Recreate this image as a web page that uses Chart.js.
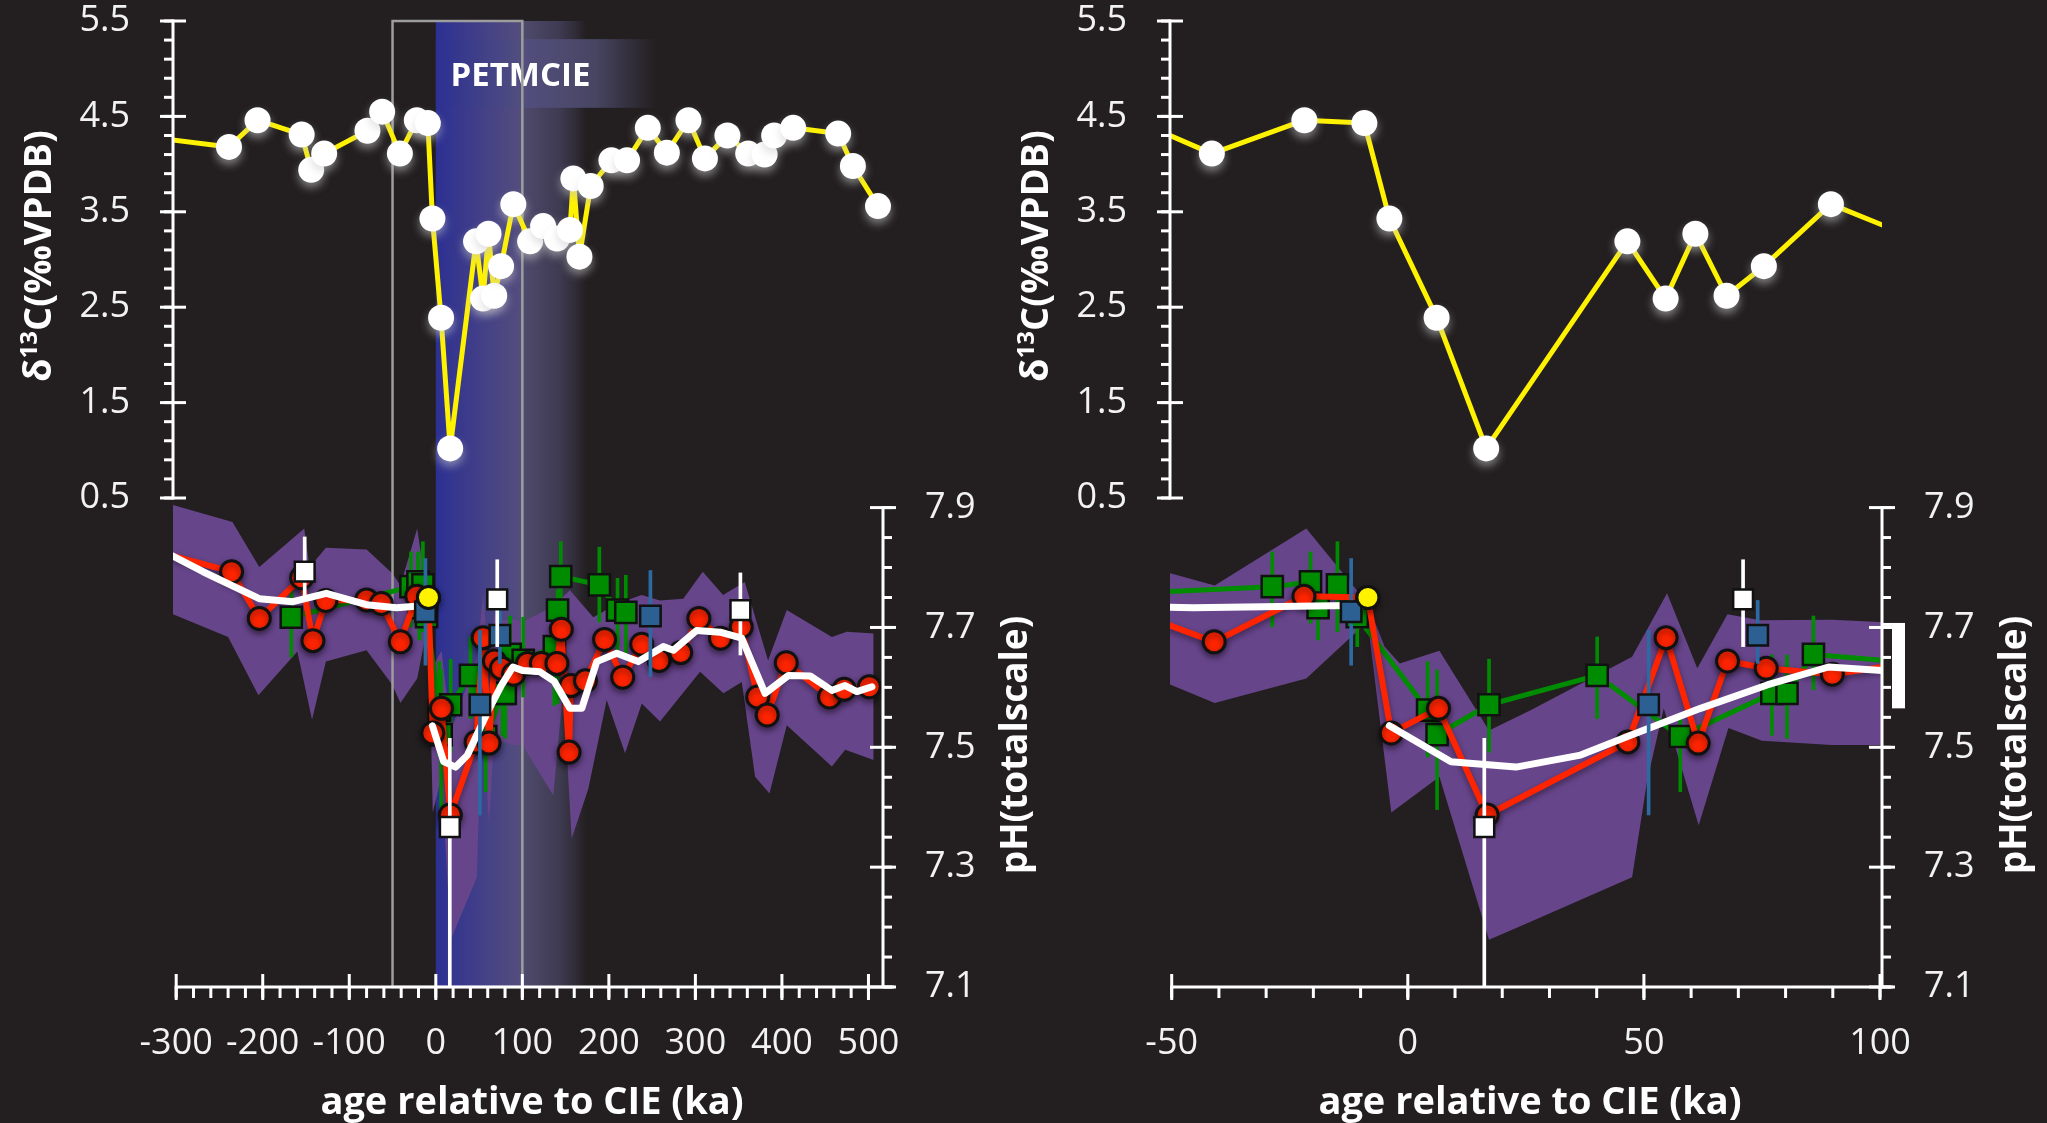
<!DOCTYPE html>
<html>
<head>
<meta charset="utf-8">
<title>PETM carbon isotopes and pH</title>
<script src="https://cdn.jsdelivr.net/npm/chart.js@4.4.1/dist/chart.umd.min.js"></script>
<style>
  html, body { margin: 0; padding: 0; background: #231f20; }
  body { width: 2047px; height: 1123px; position: relative; overflow: hidden; }
  canvas { position: absolute; top: 0; }
  #left { left: 0; }
  #right { left: 990px; }
</style>
</head>
<body>
<canvas id="left" width="1060" height="1123"></canvas>
<canvas id="right" width="1057" height="1123"></canvas>
<script>
(function () {
  "use strict";

  // δ13C (‰ VPDB) record, shared by both panels
  const d13Age = [-310, -239, -206, -155, -144, -129, -79, -62, -41.5, -21.9, -9.2, -3.9, 6.1, 16.6, 46.5, 54.6, 60.9, 67.5, 75.4, 89.6, 109, 124, 140, 155, 159, 166, 179, 203, 221, 245, 267, 292, 311, 337, 361, 380, 391, 413, 465, 482, 511];
  const d13Val = [4.26, 4.18, 4.46, 4.31, 3.94, 4.11, 4.35, 4.55, 4.11, 4.46, 4.43, 3.43, 2.39, 1.02, 3.19, 2.59, 3.27, 2.62, 2.93, 3.58, 3.19, 3.35, 3.22, 3.31, 3.85, 3.03, 3.77, 4.04, 4.04, 4.38, 4.12, 4.46, 4.06, 4.30, 4.11, 4.10, 4.30, 4.38, 4.32, 3.98, 3.56];

  // pH reconstructions
  const redAge = [-305, -236, -204, -155, -142, -127, -80, -63, -41, -22, -8.5, -3.5, 6.5, 16.8, 46.6, 54.7, 61.5, 67.7, 75.9, 89.9, 106, 122, 140, 145, 154, 156, 173, 195, 216, 238, 258, 283, 304, 329, 353, 372, 383, 405, 455, 472, 501];
  const redPH = [7.82, 7.793, 7.715, 7.783, 7.678, 7.745, 7.746, 7.74, 7.676, 7.752, 7.75, 7.524, 7.565, 7.387, 7.509, 7.683, 7.507, 7.644, 7.632, 7.622, 7.64, 7.64, 7.64, 7.697, 7.492, 7.603, 7.611, 7.68, 7.617, 7.672, 7.645, 7.658, 7.715, 7.682, 7.701, 7.584, 7.554, 7.641, 7.584, 7.597, 7.601];

  const greenAge = [-167, -28.7, -20.6, -19.0, -14.9, -10.7, 4.2, 6.2, 17.2, 40.1, 57.7, 77.1, 80.3, 85.9, 101, 137, 140.7, 144.4, 189, 210, 219.6];
  const greenPH = [7.717, 7.768, 7.776, 7.733, 7.771, 7.718, 7.562, 7.521, 7.571, 7.62, 7.518, 7.59, 7.59, 7.655, 7.645, 7.668, 7.729, 7.785, 7.771, 7.729, 7.725];
  const greenLo = [7.651, 7.701, 7.707, 7.679, 7.693, 7.668, 7.484, 7.396, 7.492, 7.548, 7.426, 7.52, 7.515, 7.596, 7.584, 7.57, 7.573, 7.70, 7.709, 7.657, 7.657];
  const greenHi = [7.762, 7.826, 7.826, 7.745, 7.843, 7.745, 7.643, 7.629, 7.647, 7.684, 7.551, 7.654, 7.654, 7.719, 7.717, 7.684, 7.762, 7.843, 7.834, 7.782, 7.787];

  const blueAge = [-12.0, 51.0, 74.1, 248];
  const bluePH = [7.726, 7.571, 7.687, 7.719];
  const blueLo = [7.637, 7.387, 7.64, 7.618];
  const blueHi = [7.815, 7.695, 7.745, 7.795];

  const whiteAge = [-151.5, 16.2, 71.0, 352];
  const whitePH = [7.793, 7.367, 7.747, 7.729];
  const whiteLo = [7.75, 6.9, 7.668, 7.654];
  const whiteHi = [7.851, 7.515, 7.813, 7.791];

  const onsetAge = [-8.45];
  const onsetPH = [7.75];

  // smoothed pH (null = break at the onset)
  const smoothAge = [-305, -269, -204, -165, -126.5, -80, -45.5, -8.45, -6, -3.9, 9.15, 22.9, 36.6, 47.2, 62, 76.1, 89.1, 100.7, 120.3, 137, 154.9, 168.7, 186, 209, 234, 263, 274.6, 301.5, 328.5, 353.6, 380.5, 407.6, 432.7, 457.7, 473, 486.6, 504];
  const smoothPH = [7.82, 7.793, 7.748, 7.743, 7.757, 7.738, 7.733, 7.737, null, 7.536, 7.476, 7.467, 7.487, 7.52, 7.565, 7.604, 7.634, 7.628, 7.626, 7.61, 7.565, 7.565, 7.643, 7.657, 7.643, 7.668, 7.662, 7.695, 7.692, 7.682, 7.59, 7.62, 7.619, 7.595, 7.603, 7.593, 7.601];

  // pH uncertainty envelope
  const bandUpAge = [-305, -235, -204, -152, -146, -127, -80, -50.1, -40.9, -21.5, -8.5, -4.9, -1.7, 6.7, 17.2, 26, 47.5, 54.9, 61.3, 67.7, 74.6, 89.8, 100, 134, 155, 182, 210, 238, 259, 286, 308.5, 332, 357, 384, 405.6, 457.7, 475, 506];
  const bandUpPH = [7.905, 7.876, 7.801, 7.865, 7.80, 7.833, 7.83, 7.79, 7.77, 7.865, 7.74, 7.668, 7.64, 7.661, 7.528, 7.562, 7.651, 7.757, 7.632, 7.722, 7.712, 7.713, 7.709, 7.734, 7.762, 7.717, 7.74, 7.754, 7.745, 7.748, 7.793, 7.754, 7.776, 7.645, 7.729, 7.684, 7.693, 7.69];
  const bandLoAge = [-305, -240, -205, -160, -143, -127, -80, -50.1, -40.9, -21.5, -8.5, -3.5, 6.7, 17.2, 26, 47.5, 50.7, 54.2, 61.6, 67.9, 75, 89.8, 100, 135.7, 147.3, 157, 176.3, 197.5, 218.7, 238, 259.1, 305.4, 332.4, 353.6, 369, 385.6, 405.6, 457.7, 473.1, 506];
  const bandLoPH = [7.723, 7.684, 7.587, 7.66, 7.546, 7.643, 7.662, 7.604, 7.574, 7.615, 7.71, 7.391, 7.451, 7.179, 7.209, 7.283, 7.445, 7.565, 7.37, 7.532, 7.511, 7.504, 7.504, 7.42, 7.595, 7.348, 7.431, 7.579, 7.49, 7.573, 7.543, 7.626, 7.59, 7.609, 7.451, 7.423, 7.537, 7.468, 7.496, 7.479];

  // bracket beside the right-hand pH axis
  const bracketPH = [7.565, 7.705];

  // ticks
  const d13Ticks = [0.5, 1.5, 2.5, 3.5, 4.5, 5.5];
  const phTicks = [7.1, 7.3, 7.5, 7.7, 7.9];
  const ageTicksLeft = [-300, -200, -100, 0, 100, 200, 300, 400, 500];
  const ageTicksRight = [-50, 0, 50, 100];

  // CIE shading and zoom frame (ka / ‰)
  const cieOnset = 0, cieEnd = 100, cieFade = 178;
  const zoomFrom = -50, zoomTo = 100;
  const labelEnd = 255, labelTop = 5.31, labelBottom = 4.59, labelAge = 17, labelD13 = 4.92;

  // layout
  const FONT = '"Open Sans", "Noto Sans", sans-serif';
  const TICK = "#f2f2f2";
  const PLOT_TOP = 21;
  const PLOT_BOTTOM = 987;
  const D13_PX = 95.4;
  const PH_PX = 599.25;
  const d13Max = 5.5;
  const d13Min = d13Max - (PLOT_BOTTOM - PLOT_TOP) / D13_PX;
  const phMin = 7.1;
  const phMax = phMin + (PLOT_BOTTOM - PLOT_TOP) / PH_PX;

  Chart.defaults.font.family = FONT;
  Chart.defaults.color = TICK;

  const pts = (xs, ys) => xs.map((x, i) => ({ x: x, y: ys[i] }));
  const spans = (xs, lo, hi) => xs.map((x, i) => ({ x: x, y: [lo[i], hi[i]] }));

  function inside(r) {
    return function (c) {
      const s = c.chart.scales.x;
      if (!s || !c.raw) return r;
      return c.raw.x >= s.min && c.raw.x <= s.max ? r : 0;
    };
  }

  function zeroPad(s) {
    s.paddingLeft = 0;
    s.paddingRight = 0;
    s.paddingTop = 0;
    s.paddingBottom = 0;
  }

  function seg(ctx, x0, y0, x1, y1) {
    ctx.beginPath();
    ctx.moveTo(x0, y0);
    ctx.lineTo(x1, y1);
    ctx.stroke();
  }

  function steps(from, to, step) {
    const n = Math.round((to - from) / step);
    const out = [];
    for (let i = 0; i <= n; i++) out.push(from + i * step);
    return out;
  }

  function drawCIE(chart) {
    const ctx = chart.ctx, a = chart.chartArea;
    const xs = chart.scales.x, ds = chart.scales.d13;
    const x0 = xs.getPixelForValue(cieOnset);
    const xr = xs.getPixelForValue(cieEnd);
    const x1 = xs.getPixelForValue(cieFade);
    const top = ds.getPixelForValue(d13Max);
    const f = (xr - x0) / (x1 - x0);

    ctx.save();
    const g = ctx.createLinearGradient(x0, 0, x1, 0);
    g.addColorStop(0, "rgb(44, 48, 146)");
    g.addColorStop(f * 0.5, "rgb(66, 63, 136)");
    g.addColorStop(f, "rgb(84, 78, 124)");
    g.addColorStop(f + 0.02, "rgb(77, 73, 106)");
    g.addColorStop(0.8, "rgb(63, 59, 82)");
    g.addColorStop(0.92, "rgb(46, 42, 52)");
    g.addColorStop(1, "rgba(35, 31, 32, 0)");
    ctx.fillStyle = g;
    ctx.fillRect(x0, top, x1 - x0, a.bottom - top);

    const bx1 = xs.getPixelForValue(labelEnd);
    const by0 = ds.getPixelForValue(labelTop);
    const by1 = ds.getPixelForValue(labelBottom);
    const f2 = (xr - x0) / (bx1 - x0);
    const g2 = ctx.createLinearGradient(x0, 0, bx1, 0);
    g2.addColorStop(0, "rgb(44, 48, 146)");
    g2.addColorStop(f2, "rgb(82, 78, 126)");
    g2.addColorStop(0.72, "rgba(74, 72, 102, 0.95)");
    g2.addColorStop(1, "rgba(74, 72, 102, 0)");
    ctx.fillStyle = g2;
    ctx.fillRect(x0, by0, bx1 - x0, by1 - by0);

    ctx.fillStyle = "#ffffff";
    ctx.font = "bold 33px " + FONT;
    ctx.textAlign = "left";
    ctx.textBaseline = "middle";
    ctx.fillText("PETMCIE", xs.getPixelForValue(labelAge), ds.getPixelForValue(labelD13));
    ctx.restore();
  }

  function drawZoomFrame(chart) {
    const ctx = chart.ctx, a = chart.chartArea;
    const xs = chart.scales.x, ds = chart.scales.d13;
    const x0 = xs.getPixelForValue(zoomFrom);
    const x1 = xs.getPixelForValue(zoomTo);
    const top = ds.getPixelForValue(d13Max);
    ctx.save();
    ctx.strokeStyle = "#9d9d9d";
    ctx.lineWidth = 2.5;
    ctx.strokeRect(x0, top, x1 - x0, a.bottom - top);
    ctx.restore();
  }

  function drawAxes(chart, o) {
    const ctx = chart.ctx, a = chart.chartArea;
    const xs = chart.scales.x, ds = chart.scales.d13, ps = chart.scales.ph;
    ctx.save();
    ctx.strokeStyle = "#ffffff";
    ctx.lineWidth = 3;

    // δ13C axis
    const dTop = ds.getPixelForValue(d13Ticks[d13Ticks.length - 1]);
    const dBot = ds.getPixelForValue(d13Ticks[0]);
    seg(ctx, a.left, dTop - 1.5, a.left, dBot + 1.5);
    steps(d13Ticks[0], d13Ticks[d13Ticks.length - 1], 0.2).forEach(v => {
      const y = ds.getPixelForValue(v);
      seg(ctx, a.left - 9, y, a.left, y);
    });
    d13Ticks.forEach(v => {
      const y = ds.getPixelForValue(v);
      seg(ctx, a.left - 13, y, a.left + 13, y);
    });

    // pH axis
    const pTop = ps.getPixelForValue(phTicks[phTicks.length - 1]);
    seg(ctx, a.right, pTop - 1.5, a.right, a.bottom);
    steps(phTicks[0], phTicks[phTicks.length - 1], 0.05).forEach(v => {
      const y = ps.getPixelForValue(v);
      seg(ctx, a.right, y, a.right + 9, y);
    });
    phTicks.forEach(v => {
      const y = ps.getPixelForValue(v);
      seg(ctx, a.right - 13, y, a.right + 13, y);
    });

    // age axis
    const t = o.ageTicks;
    seg(ctx, xs.getPixelForValue(t[0]) - 1.5, a.bottom, a.right + 11, a.bottom);
    steps(t[0], t[t.length - 1], o.ageMinor).forEach(v => {
      const x = xs.getPixelForValue(v);
      seg(ctx, x, a.bottom, x, a.bottom + 11);
    });
    t.forEach(v => {
      const x = xs.getPixelForValue(v);
      seg(ctx, x, a.bottom - 13, x, a.bottom + 13);
    });
    ctx.restore();
  }

  function vertical(ctx, cx, cy, parts, size) {
    ctx.save();
    ctx.translate(cx, cy);
    ctx.rotate(-Math.PI / 2);
    ctx.textAlign = "left";
    ctx.textBaseline = "alphabetic";
    ctx.fillStyle = "#ffffff";
    let total = 0;
    parts.forEach(p => {
      ctx.font = "bold " + Math.round(size * (p.s || 1)) + "px " + FONT;
      p.w = ctx.measureText(p.t).width;
      total += p.w;
    });
    let x = -total / 2;
    parts.forEach(p => {
      ctx.font = "bold " + Math.round(size * (p.s || 1)) + "px " + FONT;
      ctx.fillText(p.t, x, size * 0.36 - (p.up || 0) * size);
      x += p.w;
    });
    ctx.restore();
  }

  function drawTitles(chart) {
    const ctx = chart.ctx, a = chart.chartArea;
    ctx.save();
    ctx.fillStyle = "#ffffff";
    ctx.font = "bold 38px " + FONT;
    ctx.textAlign = "center";
    ctx.textBaseline = "alphabetic";
    ctx.fillText("age relative to CIE (ka)", (a.left + a.right) / 2 + 4, 1114);
    ctx.restore();
    vertical(ctx, a.left - 136, 256, [{ t: "δ" }, { t: "13", s: 0.64, up: 0.36 }, { t: "C(‰VPDB)" }], 38);
    vertical(ctx, a.right + 131, 745, [{ t: "pH(totalscale)" }], 37);
  }

  function drawBracket(chart) {
    const ctx = chart.ctx, a = chart.chartArea, ps = chart.scales.ph;
    const yTop = ps.getPixelForValue(bracketPH[1]);
    const yBot = ps.getPixelForValue(bracketPH[0]);
    ctx.save();
    ctx.fillStyle = "#ffffff";
    ctx.fillRect(a.right + 10, yTop, 13, yBot - yTop);
    ctx.fillRect(a.right, yTop - 1.5, 23, 3);
    ctx.restore();
  }

  const panelPlugin = {
    id: "panel",
    beforeDatasetsDraw(chart, args, o) {
      if (o.cie) drawCIE(chart);
    },
    beforeDatasetDraw(chart, args) {
      const ds = chart.data.datasets[args.index];
      const ctx = chart.ctx;
      if (ds.glow) {
        ctx.save();
        ctx.shadowColor = "rgba(200, 200, 200, 0.55)";
        ctx.shadowBlur = 9;
        ctx.shadowOffsetY = 5;
      } else if (ds.shade) {
        ctx.save();
        ctx.shadowColor = "rgba(0, 0, 0, 0.45)";
        ctx.shadowBlur = 6;
        ctx.shadowOffsetY = 3;
      }
    },
    afterDatasetDraw(chart, args, o) {
      const ds = chart.data.datasets[args.index];
      if (ds.glow || ds.shade) chart.ctx.restore();
      if (ds.label === "band upper" && o.cie) drawZoomFrame(chart);
    },
    afterDraw(chart, args, o) {
      drawAxes(chart, o);
      drawTitles(chart);
      if (o.bracket) drawBracket(chart);
    },
  };

  function buildPanel(p) {
    const datasets = [
      {
        label: "white squares", type: "line", yAxisID: "ph", order: 0,
        data: pts(whiteAge, whitePH), showLine: false,
        pointStyle: "rect", pointRadius: inside(14), pointBackgroundColor: "#ffffff",
        pointBorderColor: "#111111", pointBorderWidth: 2.5,
      },
      {
        label: "white errors", type: "bar", yAxisID: "ph", order: 1,
        data: spans(whiteAge, whiteLo, whiteHi), backgroundColor: "#ffffff",
        barThickness: 3, grouped: false,
      },
      {
        label: "onset", type: "line", yAxisID: "ph", order: 2,
        data: pts(onsetAge, onsetPH), showLine: false,
        pointRadius: 11, pointBackgroundColor: "#fff200",
        pointBorderColor: "#111111", pointBorderWidth: 3,
      },
      {
        label: "blue squares", type: "line", yAxisID: "ph", order: 3,
        data: pts(blueAge, bluePH), showLine: false,
        pointStyle: "rect", pointRadius: inside(14.5), pointBackgroundColor: "#2c5f92",
        pointBorderColor: "#111111", pointBorderWidth: 2.5,
      },
      {
        label: "blue errors", type: "bar", yAxisID: "ph", order: 4,
        data: spans(blueAge, blueLo, blueHi), backgroundColor: "#2d6aa3",
        barThickness: 3, grouped: false,
      },
      {
        label: "smoothed pH", type: "line", yAxisID: "ph", order: 5,
        data: pts(smoothAge, smoothPH), borderColor: "#ffffff", borderWidth: 7,
        pointRadius: 0, borderCapStyle: "round", borderJoinStyle: "round", spanGaps: false,
      },
      {
        label: "red pH", type: "line", yAxisID: "ph", order: 6, shade: true,
        data: pts(redAge, redPH), borderColor: "#ff2400", borderWidth: 6,
        borderJoinStyle: "round",
        pointRadius: inside(11), pointBackgroundColor: "#ff2400",
        pointBorderColor: "#111111", pointBorderWidth: 3,
      },
      {
        label: "green pH", type: "line", yAxisID: "ph", order: 7,
        data: pts(greenAge, greenPH), borderColor: "#008c00", borderWidth: 5,
        borderJoinStyle: "round",
        pointStyle: "rect", pointRadius: inside(15), pointBackgroundColor: "#008c00",
        pointBorderColor: "#111111", pointBorderWidth: 2.5,
      },
      {
        label: "green errors", type: "bar", yAxisID: "ph", order: 8,
        data: spans(greenAge, greenLo, greenHi), backgroundColor: "#008c00",
        barThickness: 3, grouped: false,
      },
      {
        label: "d13C points", type: "line", yAxisID: "d13", order: 9, glow: true,
        data: pts(d13Age, d13Val), showLine: false, clip: p.pointClip,
        pointRadius: inside(13), pointBackgroundColor: "#ffffff", pointBorderWidth: 0,
      },
      {
        label: "d13C line", type: "line", yAxisID: "d13", order: 10,
        data: pts(d13Age, d13Val), borderColor: "#fff200", borderWidth: 5,
        borderJoinStyle: "round", pointRadius: 0,
      },
      {
        label: "band upper", type: "line", yAxisID: "ph", order: 11,
        data: pts(bandUpAge, bandUpPH), borderWidth: 0, pointRadius: 0,
        fill: "+1", backgroundColor: "#67458b",
      },
      {
        label: "band lower", type: "line", yAxisID: "ph", order: 12,
        data: pts(bandLoAge, bandLoPH), borderWidth: 0, pointRadius: 0, fill: false,
      },
    ];

    const tickFont = { size: 36, lineHeight: 1.2 };

    return new Chart(document.getElementById(p.canvas), {
      type: "line",
      data: { datasets: datasets },
      options: {
        responsive: false,
        animation: false,
        devicePixelRatio: 1,
        events: [],
        layout: { padding: { top: PLOT_TOP, left: 0, right: 0, bottom: 0 } },
        plugins: {
          legend: { display: false },
          tooltip: { enabled: false },
          panel: { cie: p.cie, bracket: p.bracket, ageTicks: p.ageTicks, ageMinor: p.ageMinor },
        },
        scales: {
          x: {
            type: "linear", position: "bottom", min: p.xMin, max: p.xMax, offset: false,
            grid: { display: false, drawTicks: false }, border: { display: false },
            afterBuildTicks: s => { s.ticks = p.ageTicks.map(v => ({ value: v })); },
            afterFit: s => { s.height = 1123 - PLOT_BOTTOM; zeroPad(s); },
            ticks: {
              autoSkip: false, maxRotation: 0, minRotation: 0, padding: 35,
              color: TICK, font: tickFont, callback: v => String(v),
            },
          },
          d13: {
            type: "linear", position: "left", min: d13Min, max: d13Max,
            grid: { display: false, drawTicks: false }, border: { display: false },
            afterBuildTicks: s => { s.ticks = d13Ticks.map(v => ({ value: v })); },
            afterFit: s => { s.width = p.leftW; zeroPad(s); },
            ticks: {
              autoSkip: false, padding: 43, color: TICK, font: tickFont,
              callback: v => v.toFixed(1),
            },
          },
          ph: {
            type: "linear", position: "right", min: phMin, max: phMax,
            grid: { display: false, drawTicks: false }, border: { display: false },
            afterBuildTicks: s => { s.ticks = phTicks.map(v => ({ value: v })); },
            afterFit: s => { s.width = p.rightW; zeroPad(s); },
            ticks: {
              autoSkip: false, padding: 42, color: TICK, font: tickFont,
              callback: v => v.toFixed(1),
            },
          },
        },
      },
      plugins: [panelPlugin],
    });
  }

  // left canvas spans 0..1060, right canvas spans 990..2047
  buildPanel({
    canvas: "left", leftW: 173, rightW: 177, xMin: -303.7, xMax: 516.8,
    ageTicks: ageTicksLeft, ageMinor: 20, cie: true, bracket: false, pointClip: false,
  });
  buildPanel({
    canvas: "right", leftW: 180, rightW: 165, xMin: -50.36, xMax: 100.42,
    ageTicks: ageTicksRight, ageMinor: 10, cie: false, bracket: true, pointClip: undefined,
  });
})();
</script>
</body>
</html>
